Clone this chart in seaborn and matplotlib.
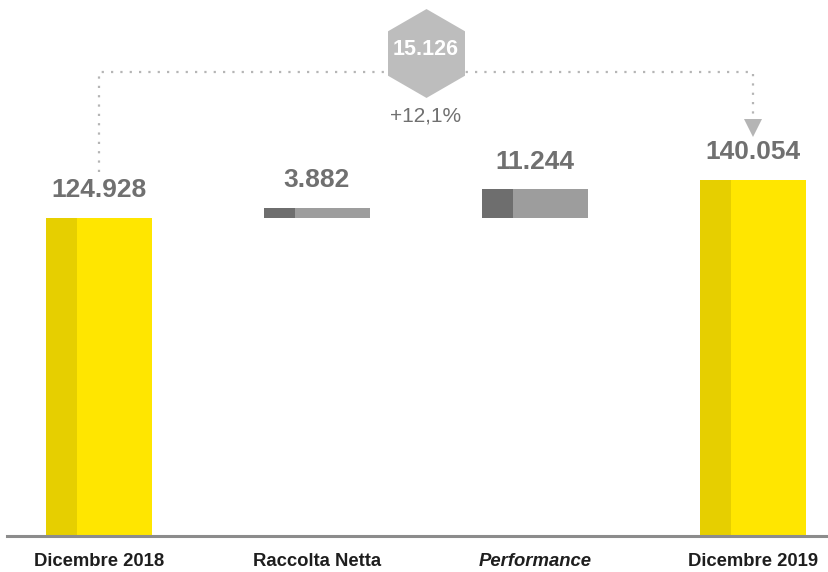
import matplotlib
matplotlib.use("Agg")
import matplotlib.pyplot as plt
import seaborn as sns
import pandas as pd

# data (thousands)
categories = ["Dicembre 2018", "Raccolta Netta", "Performance", "Dicembre 2019"]
start_value = 124928
flows = [3882, 11244]
end_value = 140054
delta = 15126
delta_pct = "+12,1%"

def fmt(v):
    return f"{v:,}".replace(",", ".")

sns.set_style("white")
plt.rcParams["font.family"] = ["Liberation Sans", "DejaVu Sans"]

yellow = "#FFE600"
yellow_dark = "#E6CF00"
grey_light = "#9D9D9D"
grey_dark = "#6E6E6E"
label_col = "#707070"
dot_col = "#B5B5B5"

fig = plt.figure(figsize=(8.29, 5.72), dpi=100)
ax = fig.add_axes([7 / 829, 36 / 572, 1 - 7 / 829, 536 / 572])

bw = 0.486
dw = 0.142

# totals with seaborn
totals = pd.DataFrame({"cat": categories,
                       "val": [start_value, None, None, end_value]})
sns.barplot(data=totals, x="cat", y="val", color=yellow, width=bw,
            saturation=1, ax=ax, order=categories, linewidth=0)
tot_x = [0, 3]
tot_v = [start_value, end_value]
ax.bar([x - bw / 2 for x in tot_x], tot_v, width=dw, align="edge",
       color=yellow_dark, linewidth=0)

# floating bars
flow_x = [1, 2]
ax.bar(flow_x, flows, bottom=start_value, width=bw, color=grey_light, linewidth=0)
ax.bar([x - bw / 2 for x in flow_x], flows, bottom=start_value, width=dw,
       align="edge", color=grey_dark, linewidth=0)

# value labels
for x, top, v in zip(tot_x + flow_x,
                     tot_v + [start_value + f for f in flows],
                     tot_v + flows):
    ax.annotate(fmt(v), (x, top), xytext=(0, 20), textcoords="offset points",
                ha="center", va="center", fontsize=19, fontweight="bold",
                color=label_col)

# connector
br_y = 182300
ax.plot([0, 0, 3, 3], [143000, br_y, br_y, 164600], color=dot_col, lw=1.6,
        linestyle=(0, (1, 3.2)), zorder=3)
ax.plot(3, 160300, marker="v", markersize=13, color=dot_col,
        markeredgewidth=0, zorder=3)

# hexagon with delta
hx, hy = 1.5, 189800
ax.plot(hx, hy, marker="h", markersize=64, color="#BDBDBD",
        markeredgewidth=0, zorder=4)
ax.text(hx, hy + 1500, fmt(delta), ha="center", va="center", fontsize=15.5,
        fontweight="bold", color="white", zorder=5)
ax.text(hx, 165000, delta_pct, ha="center", va="center", fontsize=15,
        color=label_col, zorder=5)

ax.set_xlim(-0.422, 3.349)
ax.set_ylim(0, 210600)
ax.set_yticks([])
ax.set_xlabel("")
ax.set_ylabel("")
ax.set_xticks(range(4))
ax.set_xticklabels(categories)
for lab in ax.get_xticklabels():
    lab.set_fontweight("bold")
    lab.set_fontsize(13.3)
    lab.set_color("#1E1E1E")
    if lab.get_text() == "Performance":
        lab.set_fontstyle("italic")
ax.tick_params(axis="x", length=0, pad=12)

for s in ["top", "left", "right"]:
    ax.spines[s].set_visible(False)
ax.spines["bottom"].set_color("#8C8C8C")
ax.spines["bottom"].set_linewidth(2.2)
ax.patch.set_alpha(0)

fig.savefig("out.png", dpi=100)
